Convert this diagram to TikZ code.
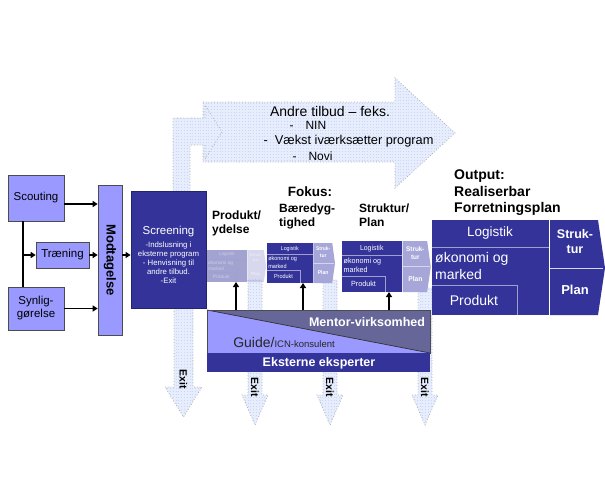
\documentclass[tikz,border=0pt]{standalone}
\usepackage{fontspec}
\setmainfont{Liberation Sans}
\usetikzlibrary{arrows.meta,calc,patterns}

\definecolor{lav}{HTML}{9999FF}
\definecolor{navy}{HTML}{333399}
\definecolor{slate}{HTML}{666699}
\definecolor{ltblue}{HTML}{E6EEFB}
\definecolor{chev}{HTML}{A6A6D8}
\definecolor{divline}{HTML}{A0A0D0}

\tikzset{
  lbox/.style={draw=gray!60!black, fill=lav, line width=0.6pt, inner sep=0pt,
    font=\fontsize{11.5}{13}\selectfont, align=center},
  conn/.style={line width=1.6pt, -{Triangle[length=5pt,width=6pt]}},
  dotarrow/.style={draw=gray!65, dotted, line width=0.8pt, fill=ltblue,
    postaction={pattern=horizontal lines, pattern color=blue!18}},
  exitlbl/.style={rotate=-90, font=\bfseries\fontsize{10.5}{11}\selectfont, inner sep=0pt},
  title/.style={font=\bfseries\fontsize{12}{13.5}\selectfont, align=left, anchor=north west, inner sep=0pt},
  wtxt/.style={text=white, inner sep=0pt},
}

\newcommand\exitarr[6]{% name, xc, ytop, ytip, halfstem, halfhead
  \begin{scope}[shift={(#2,0)}]
    \draw[dotarrow] (-#5,#3) -- (-#5,#4-30) -- (-#6,#4-30) -- (0,#4)
      -- (#6,#4-30) -- (#5,#4-30) -- (#5,#3) -- cycle;
    \node[exitlbl] (#1) at (0,#4-38) {Exit};
  \end{scope}}

\newcommand\planblock[1]{%
  \fill[navy] (0,0) rectangle (117,95);
  \fill[#1] (118,0) -- (166,0) -- (173,48) -- (166,95) -- (118,95) -- cycle;
  \draw[divline, line width=0.8pt] (0,27) -- (117,27);
  \draw[divline, line width=0.8pt] (0,65) -- (85,65) -- (85,95);
  \draw[white!80!navy, line width=0.8pt] (118,48) -- (171,48);
  \node[wtxt, font=\fontsize{13.5}{14}\selectfont] at (58,13.5) {Logistik};
  \node[wtxt, anchor=west, align=left, font=\fontsize{14}{17}\selectfont] at (3,46) {økonomi og\\marked};
  \node[wtxt, font=\fontsize{14}{15}\selectfont] at (42,80) {Produkt};
  \node[wtxt, align=center, font=\bfseries\fontsize{12.5}{15}\selectfont] at (143,22) {Struk-\\tur};
  \node[wtxt, font=\bfseries\fontsize{13}{14}\selectfont] at (143,70) {Plan};
}

\begin{document}
\begin{tikzpicture}[x=1pt,y=-1pt]
\path[use as bounding box] (0,0) rectangle (605,482);

% big "Andre tilbud" arrow
\draw[dotarrow] (203,102) -- (395,102) -- (395,78) -- (455,133) -- (395,188)
  -- (395,162) -- (203,162) -- cycle;
% elbow arrow rising from Screening
\draw[dotarrow] (173,195) -- (173,118) -- (205,118) -- (205,105) -- (222,132)
  -- (205,159) -- (205,145) -- (190,145) -- (190,195) -- cycle;
\node[font=\fontsize{14}{15}\selectfont] (andre) at (330,111) {Andre tilbud – feks.};
\node[font=\fontsize{12}{13}\selectfont, anchor=west] (nin) at (286,125) {-\quad NIN};
\node[font=\fontsize{12.8}{14}\selectfont, anchor=west] (vaekst) at (260,141) {-\ \ Vækst iværksætter program};
\node[font=\fontsize{12}{13}\selectfont, anchor=west] (novi) at (289,156) {-\quad Novi};

% Exit arrows
\exitarr{exit1}{183.5}{300}{417}{9.5}{18.5}
\exitarr{exit2}{255}{280}{425}{7}{13}
\exitarr{exit3}{330}{280}{425}{7}{13}
\exitarr{exit4}{425}{288}{425}{7}{13}

% left boxes
\node[lbox, minimum width=56, minimum height=46] (scout) at (36,198) {Scouting};
\node[lbox, minimum width=53, minimum height=26] (trae) at (62.5,255) {Træning};
\node[lbox, minimum width=56, minimum height=43] (syn) at (36,308.5) {Synlig-\\gørelse};
\node[lbox, minimum width=24, minimum height=150] (modt) at (110,260) {};
\node[rotate=-90, font=\bfseries\fontsize{13}{14}\selectfont] (modtlbl) at (modt) {Modtagelse};

% Screening
\node[draw=navy!70!black, fill=navy, line width=0.8pt, minimum width=75, minimum height=117] (scr) at (168.5,249.5) {};
\node[text=white, inner sep=0pt, font=\fontsize{11.5}{13}\selectfont] (scrtitle) at (168.5,232) {Screening};
\node[text=white, align=center, inner sep=0pt, font=\fontsize{7.8}{8.8}\selectfont, anchor=north]
  (scrtxt) at (168.5,242) {-Indslusning i\\eksterne program\\- Henvisning til\\andre tilbud.\\-Exit};

% connectors on the left
\coordinate (t1) at ([xshift=15pt]scout.south west);
\coordinate (t2) at ([xshift=15pt]syn.north west);
\draw[line width=1.6pt] (t1) -- (t2);
\draw[conn] (t1 |- trae.west) -- (trae.west);
\draw[conn] ([yshift=-6pt]scout.east) -- ([yshift=-6pt]scout.east -| modt.west);
\draw[conn] (trae.east) -- (trae.east -| modt.west);
\draw[conn] (syn.east) -- (syn.east -| modt.west);
\draw[conn] (modt.east |- trae.east) -- (scr.west |- trae.east);

% titles
\node[font=\bfseries\fontsize{13.5}{14}\selectfont] (fokus) at (310,192) {Fokus:};
\node[title] (t-prod) at (212,211) {Produkt/\\ydelse};
\node[title] (t-baer) at (279,204) {Bæredyg-\\tighed};
\node[title] (t-strk) at (359,204) {Struktur/\\Plan};
\node[font=\bfseries\fontsize{14}{16.5}\selectfont, align=left, anchor=north west, inner sep=0pt] (outtitle) at (454,170) {Output:\\Realiserbar\\Forretningsplan};

% mini plans
\begin{scope}[shift={(207,250)}, xscale=0.342, yscale=0.337, transform shape, opacity=0.45]
  \planblock{chev}
\end{scope}
\begin{scope}[shift={(267,243)}, xscale=0.393, yscale=0.421, transform shape]
  \planblock{chev}
\end{scope}
\begin{scope}[shift={(342,241)}, xscale=0.513, yscale=0.537, transform shape]
  \planblock{chev}
\end{scope}
% output plan
\begin{scope}[shift={(432,220)}]
  \planblock{navy}
\end{scope}

% bottom bars
\coordinate (mtl) at (207,310);
\coordinate (mtr) at (430,310);
\coordinate (mbr) at (430,353);
\coordinate (mbl) at (207,353);
\coordinate (ebr) at (430,372);
\fill[lav] (mtl) rectangle (mbr);
\fill[slate] (mtl) -- (mtr) -- (mbr) -- cycle;
\draw[line width=0.7pt, black!80] (mtl) -- (mbr);
\draw[gray!60!black, line width=0.5pt] (mtl) rectangle (mbr);
\fill[navy] (mbl) rectangle (ebr);
\node[wtxt, font=\bfseries\fontsize{12.5}{13}\selectfont] (mentor) at (367,322) {Mentor-virksomhed};
\node[inner sep=0pt, text=black!85] (guide) at (284,342) {\fontsize{14}{15}\selectfont Guide/\fontsize{9.5}{10}\selectfont ICN-konsulent};
\node[wtxt, font=\bfseries\fontsize{12.5}{13}\selectfont] (ekst) at (319,363) {Eksterne eksperter};

% vertical arrows from the bar
\coordinate (a1) at (236,282);
\coordinate (a2) at (303,283);
\coordinate (a3) at (389,292);
\draw[conn] (a1 |- mtl) -- (a1);
\draw[conn] (a2 |- mtl) -- (a2);
\draw[conn] (a3 |- mtl) -- (a3);
\end{tikzpicture}
\end{document}
